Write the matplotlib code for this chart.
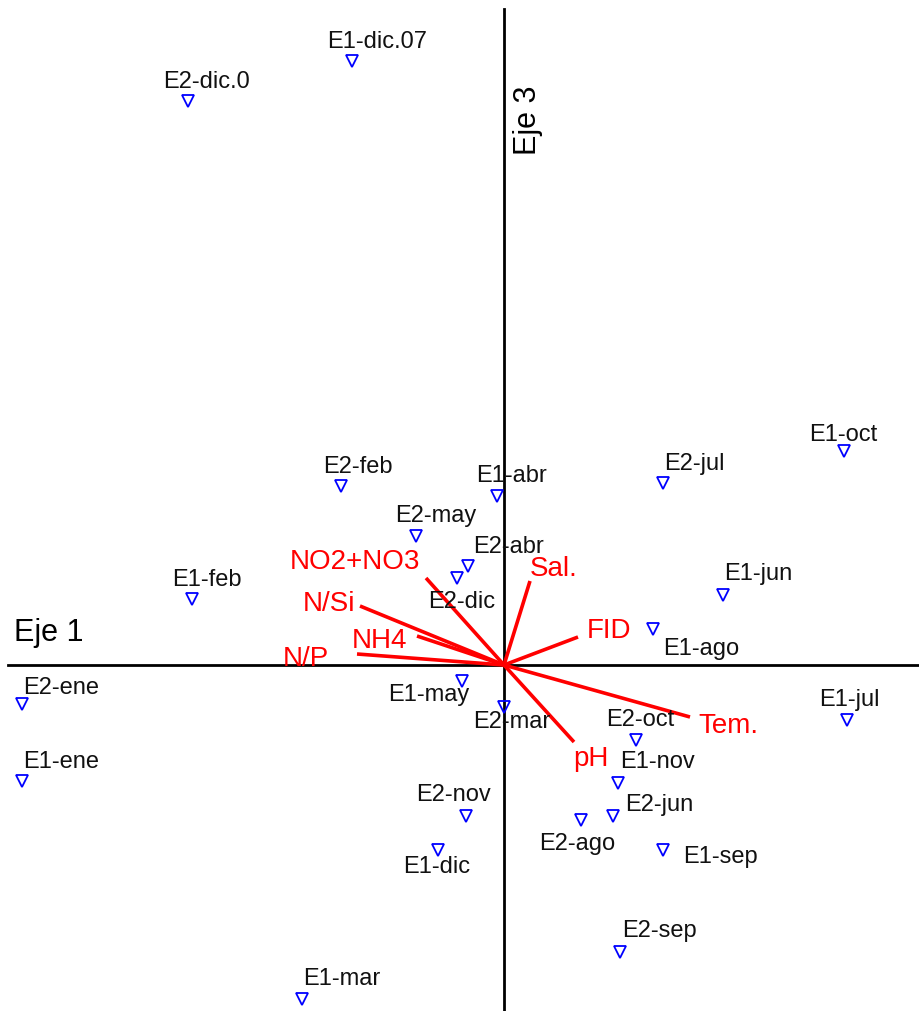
import matplotlib
matplotlib.use("Agg")
import matplotlib.pyplot as plt

plt.rcParams['font.family'] = ['Liberation Sans', 'DejaVu Sans']

# site scores (Eje 1, Eje 3)
sites = ["E1-dic.07", "E2-dic.0", "E1-oct", "E2-jul", "E2-feb", "E1-abr", "E2-may",
         "E2-abr", "E2-dic", "E1-jun", "E1-feb", "E1-ago", "E2-ene", "E1-ene",
         "E1-may", "E2-mar", "E1-jul", "E2-oct", "E1-nov", "E2-jun", "E2-ago",
         "E2-nov", "E1-sep", "E1-dic", "E2-sep", "E1-mar"]
site_x = [-1.52, -3.16, 3.40, 1.59, -1.63, -0.07, -0.88,
          -0.36, -0.47, 2.19, -3.12, 1.49, -4.82, -4.82,
          -0.42, 0.00, 3.43, 1.32, 1.14, 1.09, 0.77,
          -0.38, 1.59, -0.66, 1.16, -2.02]
site_y = [6.04, 5.64, 2.14, 1.82, 1.79, 1.69, 1.29,
          0.99, 0.87, 0.70, 0.66, 0.36, -0.39, -1.16,
          -0.16, -0.42, -0.55, -0.75, -1.18, -1.51, -1.55,
          -1.51, -1.85, -1.85, -2.87, -3.34]

# environmental variables (biplot arrows)
variables = ["Sal.", "FID", "NO2+NO3", "N/Si", "NH4", "N/P", "Tem.", "pH"]
var_x = [0.26, 0.74, -0.78, -1.44, -0.87, -1.47, 1.86, 0.70]
var_y = [0.84, 0.28, 0.87, 0.59, 0.29, 0.11, -0.52, -0.77]

# label offsets in pixels (layout only)
site_off = {
    "E1-dic.07": (-25, 20), "E2-dic.0": (-25, 20), "E1-oct": (-35, 17),
    "E2-jul": (1, 20), "E2-feb": (-18, 20), "E1-abr": (-21, 21),
    "E2-may": (-21, 21), "E2-abr": (5, 20), "E2-dic": (-29, -23),
    "E1-jun": (1, 22), "E1-feb": (-20, 20), "E1-ago": (10, -19),
    "E2-ene": (1, 17), "E1-ene": (1, 20), "E1-may": (-74, -13),
    "E2-mar": (-31, -14), "E1-jul": (-28, 21), "E2-oct": (-30, 21),
    "E1-nov": (2, 22), "E2-jun": (12, 12), "E2-ago": (-42, -23),
    "E2-nov": (-50, 22), "E1-sep": (20, -6), "E1-dic": (-35, -16),
    "E2-sep": (2, 22), "E1-mar": (1, 21),
}
var_off = {
    "Sal.": (0, 13), "FID": (9, 7), "NO2+NO3": (-136, 17), "N/Si": (-57, 3),
    "NH4": (-65, -4), "N/P": (-74, -4), "Tem.": (8, -8), "pH": (-1, -16),
}

fig = plt.figure(figsize=(9.19, 10.12), dpi=100)
ax = fig.add_axes([0, 0, 1, 1])
ax.set_xlim(-5.04, 4.15)
ax.set_ylim(-3.46, 6.66)
ax.axis("off")

# axes through the origin
ax.plot([-4.96, 4.15], [0, 0], color="black", lw=2.0, zorder=1)
ax.plot([0, 0], [-3.46, 6.56], color="black", lw=2.0, zorder=1)
ax.text(-4.9, 0.33, "Eje 1", fontsize=22, ha="left", va="center")
ax.text(0.24, 5.46, "Eje 3", fontsize=22, rotation=90, ha="center", va="center")

for vx, vy, name in zip(var_x, var_y, variables):
    ax.plot([0, vx], [0, vy], color="red", lw=2.6, solid_capstyle="butt", zorder=2)
    ax.annotate(name, (vx, vy), xytext=var_off[name], textcoords="offset pixels",
                color="red", fontsize=20, ha="left", va="center")

ax.plot(site_x, site_y, "v", ms=8, mfc="none", mec="blue", mew=1.3, zorder=3)
for sx, sy, name in zip(site_x, site_y, sites):
    ax.annotate(name, (sx, sy), xytext=site_off[name], textcoords="offset pixels",
                color="#111111", fontsize=17, ha="left", va="center")

fig.savefig("out.png", dpi=100)
